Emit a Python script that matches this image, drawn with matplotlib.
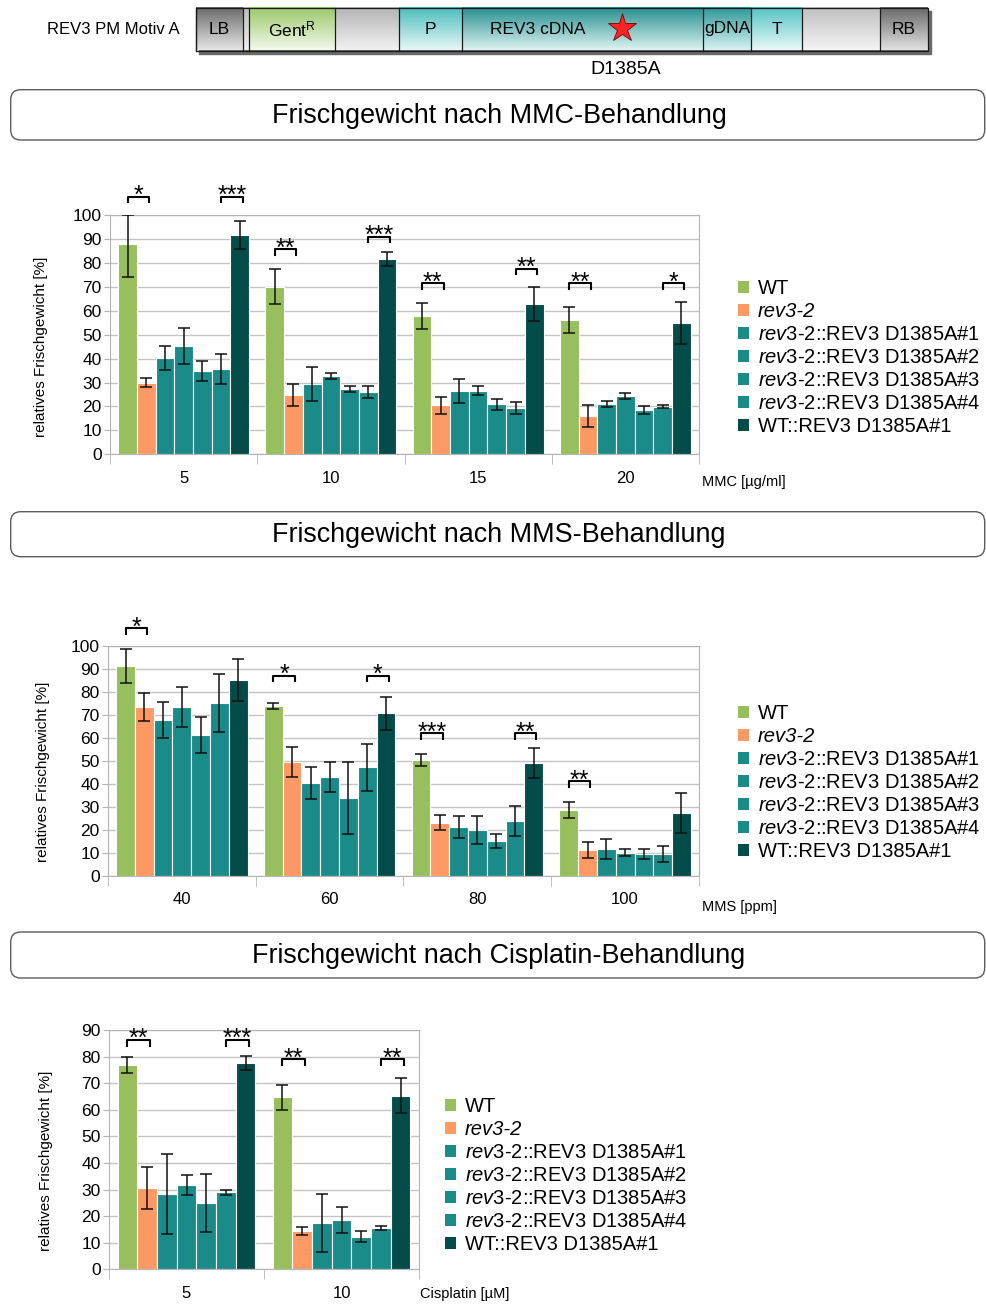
import numpy as np
import matplotlib
matplotlib.use("Agg")
import matplotlib.pyplot as plt
from matplotlib.patches import Patch, FancyBboxPatch, Rectangle
from matplotlib.colors import LinearSegmentedColormap

plt.rcParams['font.family'] = ['Liberation Sans', 'DejaVu Sans']
plt.rcParams['mathtext.fontset'] = 'custom'
plt.rcParams['mathtext.rm'] = 'Liberation Sans'
plt.rcParams['mathtext.it'] = 'Liberation Sans:italic'

# lines (rows of every mean / err table below)
lines = ["WT", "rev3-2", "rev3-2::REV3 D1385A#1", "rev3-2::REV3 D1385A#2",
         "rev3-2::REV3 D1385A#3", "rev3-2::REV3 D1385A#4", "WT::REV3 D1385A#1"]
colors = ['#97bf5d', '#fd9964', '#1a8b89', '#1a8b89', '#1a8b89', '#1a8b89', '#034c4a']

# MMC
mmc_doses = ["5", "10", "15", "20"]
mmc_mean = [[88, 70, 57.8, 56.1],
            [30, 24.8, 20.5, 16],
            [40.1, 29.4, 26.5, 21],
            [45.3, 32.7, 26.5, 24.4],
            [34.8, 27.3, 21, 18.5],
            [35.7, 26, 19.4, 19.8],
            [91.6, 81.6, 62.8, 54.9]]
mmc_err = [[14, 7.3, 5.6, 5.3],
           [2, 4.5, 3.6, 4.7],
           [5, 7, 5, 1.2],
           [7.6, 1.2, 1.9, 1.2],
           [4, 1.3, 2.3, 1.8],
           [6.3, 2.4, 2.4, 0.6],
           [6, 3, 7, 8.8]]
# (dose index, first bar of pair, bracket height, stars)
mmc_sig = [(0, 0, 107.6, "*"), (0, 5, 107.6, "***"), (1, 0, 85.7, "**"), (1, 5, 91, "***"),
           (2, 0, 71.4, "**"), (2, 5, 77.6, "**"), (3, 0, 71.4, "**"), (3, 5, 71.4, "*")]

# MMS
mms_doses = ["40", "60", "80", "100"]
mms_mean = [[91.2, 73.8, 50.3, 28.6],
            [73.3, 49.4, 23, 11.2],
            [67.7, 40.3, 21.2, 11.6],
            [73.3, 42.9, 19.9, 9.9],
            [61.2, 33.8, 15.1, 9.4],
            [75.1, 47.2, 23.8, 9.4],
            [85.1, 70.7, 49, 27.4]]
mms_err = [[7.5, 1.5, 2.5, 3.3],
           [6, 6.7, 3.2, 3.3],
           [8, 6.8, 4.6, 4.5],
           [8.6, 6.4, 6.2, 1.5],
           [8, 15.7, 3, 2.2],
           [12.5, 10.2, 6.5, 3.3],
           [9, 7.2, 6.5, 8.7]]
mms_sig = [(0, 0, 107.5, "*"), (1, 0, 86.8, "*"), (1, 5, 86.8, "*"),
           (2, 0, 61.9, "***"), (2, 5, 61.9, "**"), (3, 0, 41, "**")]

# Cisplatin
cis_doses = ["5", "10"]
cis_mean = [[76.8, 64.8],
            [30.5, 14.4],
            [28.3, 17.4],
            [31.7, 18.6],
            [24.9, 12.2],
            [29, 15.5],
            [77.6, 65.2]]
cis_err = [[2.9, 4.7],
           [8, 1.6],
           [15, 11],
           [3.9, 4.9],
           [11, 2.1],
           [1, 0.9],
           [2.5, 6.6]]
cis_sig = [(0, 0, 86.2, "**"), (0, 5, 86.2, "***"), (1, 0, 79, "**"), (1, 5, 79, "**")]

W, H = 986, 1305
fig = plt.figure(figsize=(W / 100, H / 100), dpi=100)
bg = fig.add_axes([0, 0, 1, 1])
bg.set_axis_off()

# construct diagram: label, x0, x1, top colour, bottom colour, label x
segs = [("LB", 196, 243, '#6a6a6a', '#e6e6e6', None),
        ("", 243, 249, '#bdbdbd', '#f0f0f0', None),
        ("Gent$^{\\mathrm{R}}$", 249, 335, '#9cc96a', '#f2f8ea', None),
        ("", 335, 399, '#b4b4b4', '#f2f2f2', None),
        ("P", 399, 462, '#4cbdbd', '#e6f7f7', None),
        ("REV3 cDNA", 462, 703, '#268f8f', '#dcf2f2', 538),
        ("gDNA", 703, 751, '#2c9898', '#d8f1f1', None),
        ("T", 751, 802, '#55c4c4', '#e8f8f8', None),
        ("", 802, 880, '#c0c0c0', '#f4f4f4', None),
        ("RB", 880, 928, '#686868', '#e0e0e0', None)]
top, bot = 7.5, 50.5
bg.add_patch(Rectangle((199, top + 3), 928 - 196, bot - top, color='#6a6a6a', zorder=1))
grad = np.linspace(0, 1, 64)[:, None]
for lab, x0, x1, c0, c1, lx in segs:
    cm = LinearSegmentedColormap.from_list('', [c0, c1])
    bg.imshow(grad, cmap=cm, extent=[x0, x1, bot, top], aspect='auto', origin='upper', zorder=2)
    bg.plot([x0, x0], [top, bot], color='#1a1a1a', lw=0.9, zorder=3)
    if lab:
        bg.text(lx if lx else (x0 + x1) / 2, 29, lab, ha='center', va='center',
                fontsize=12.5, zorder=4)
bg.add_patch(Rectangle((196, top), 928 - 196, bot - top, fill=False, ec='#1a1a1a', lw=0.9, zorder=3))
bg.plot(622, 28, marker='*', ms=21, mfc='#ff2424', mec='#7a0000', mew=0.6, zorder=5)
bg.text(626, 69, "D1385A", ha='center', va='center', fontsize=14)
bg.text(47, 30, "REV3 PM Motiv A", ha='left', va='center', fontsize=12)

# title boxes
for y0, y1, title in [(89.7, 140, "Frischgewicht nach MMC-Behandlung"),
                      (511.7, 556.7, "Frischgewicht nach MMS-Behandlung"),
                      (932, 978, "Frischgewicht nach Cisplatin-Behandlung")]:
    bg.add_patch(FancyBboxPatch((10.7, y0), 974, y1 - y0,
                                boxstyle='round,pad=0,rounding_size=10',
                                fc='white', ec='#5c5c5c', lw=1))
    bg.text(499, (y0 + y1) / 2 + 1, title, ha='center', va='center', fontsize=19.4)

bg.set_xlim(0, W)
bg.set_ylim(H, 0)


def chart(box, doses, mean, err, ymax, sig, ylab_pos, xlab, xlab_xy, leg_xy):
    l, t, r, b = box
    ax = fig.add_axes([l / W, 1 - b / H, (r - l) / W, (b - t) / H])
    mean = np.array(mean, float)
    err = np.array(err, float)
    n = len(doses)
    x = np.arange(n)
    w = 0.127
    for i in range(len(lines)):
        pos = x + (i - 3) * w
        hi = np.minimum(mean[i] + err[i], ymax) - mean[i]
        ax.bar(pos, mean[i], w, color=colors[i], edgecolor='white', linewidth=0.8, zorder=2)
        ax.errorbar(pos, mean[i], yerr=[err[i], hi], fmt='none', ecolor='#111111',
                    elinewidth=1.1, capsize=4, capthick=1.1, zorder=3)
    for g, k, h, stars in sig:
        x0 = g + (k - 3) * w
        x1 = x0 + 1.15 * w
        ax.plot([x0, x0, x1, x1], [h - 2.3, h, h, h - 2.3], color='black', lw=1.5,
                clip_on=False, zorder=4)
        ax.annotate(stars, ((x0 + x1) / 2, h), xytext=(0, -4.5), textcoords='offset points',
                    ha='center', va='baseline', fontsize=18, annotation_clip=False)
    ax.set_xlim(-0.5, n - 0.5)
    ax.set_ylim(0, ymax)
    ax.set_yticks(np.arange(0, ymax + 1, 10))
    ax.yaxis.grid(True, color='#c4c4c4', lw=1)
    ax.set_axisbelow(True)
    for s in ax.spines.values():
        s.set_color('#b4b4b4')
    ax.tick_params(axis='y', length=4, color='#b4b4b4', labelsize=12.5, pad=2)
    ax.set_xticks(x)
    ax.set_xticklabels(doses)
    ax.tick_params(axis='x', which='major', length=0, labelsize=12, pad=12)
    ax.set_xticks(np.arange(n + 1) - 0.5, minor=True)
    ax.tick_params(axis='x', which='minor', length=7, color='#b4b4b4')
    ax.set_ylabel("relatives Frischgewicht [%]", fontsize=11)
    ax.yaxis.set_label_coords(*ylab_pos)
    bg.text(xlab_xy[0], xlab_xy[1], xlab, ha='left', va='center', fontsize=10.5)

    labels = [r"WT", "rev3-2"] + [r"$\mathit{rev3}$-2::REV3 D1385A#%d" % j for j in range(1, 5)] \
        + ["WT::REV3 D1385A#1"]
    handles = [Patch(facecolor=c) for c in colors]
    leg = fig.legend(handles, labels, loc='upper left',
                     bbox_to_anchor=(leg_xy[0] / W, 1 - leg_xy[1] / H),
                     frameon=False, fontsize=14.5, handlelength=0.55, handleheight=0.55,
                     handletextpad=0.45, labelspacing=0.2, borderpad=0, borderaxespad=0)
    leg.get_texts()[1].set_fontstyle('italic')
    return ax


chart((110, 215, 699, 454.3), mmc_doses, mmc_mean, mmc_err, 100, mmc_sig,
      (-0.105, 0.45), "MMC [µg/ml]", (702, 482), (738, 279))
chart((108, 645.7, 699, 875.7), mms_doses, mms_mean, mms_err, 100, mms_sig,
      (-0.098, 0.45), "MMS [ppm]", (702, 907), (738, 704))
chart((109, 1030, 419, 1269.3), cis_doses, cis_mean, cis_err, 90, cis_sig,
      (-0.18, 0.453), "Cisplatin [µM]", (420, 1294), (445, 1097))

fig.savefig("out.png", dpi=100)
